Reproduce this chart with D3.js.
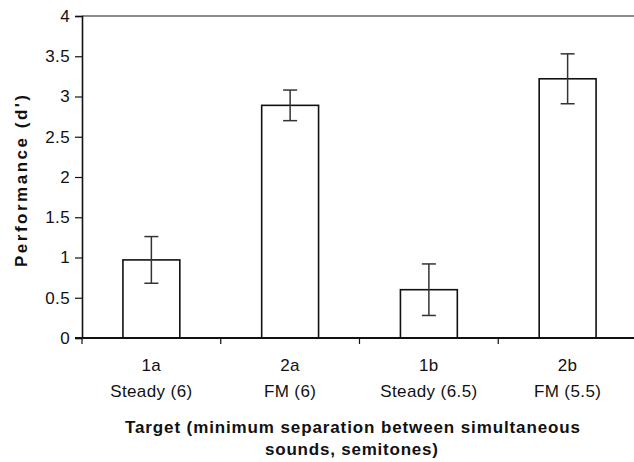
<!DOCTYPE html>
<html>
<head>
<meta charset="utf-8">
<script src="https://cdn.jsdelivr.net/npm/d3@7"></script>
<style>
  html, body { margin: 0; padding: 0; background: #fff; }
  svg { display: block; }
  text { font-family: "Liberation Sans", Arial, sans-serif; fill: #111; }
</style>
</head>
<body>
<svg id="chart" width="634" height="462"></svg>
<script>
// Target conditions and mean d' with error-bar half-widths
const codes = ["1a", "2a", "1b", "2b"];
const conditions = ["Steady (6)", "FM (6)", "Steady (6.5)", "FM (5.5)"];
const performance = [0.97, 2.89, 0.60, 3.22];
const errors = [0.29, 0.19, 0.32, 0.31];
const yTicks = [0, 0.5, 1, 1.5, 2, 2.5, 3, 3.5, 4];

const svg = d3.select("#chart");
const plotLeft = 82, plotRight = 637, plotTop = 16, plotBottom = 338;
const labelFont = "17px", labelSpacing = "0.4px";

const x = d3.scaleBand().domain(codes).range([plotLeft, plotRight]).paddingInner(0).paddingOuter(0);
const y = d3.scaleLinear().domain([0, 4]).range([plotBottom, plotTop]);
const barW = x.bandwidth() * 0.41;

// plot frame top edge
svg.append("line")
  .attr("x1", plotLeft).attr("x2", 634)
  .attr("y1", y(4)).attr("y2", y(4))
  .attr("stroke", "#666").attr("stroke-width", 1.3);

// bars
svg.selectAll("rect.bar").data(codes).enter().append("rect")
  .attr("class", "bar")
  .attr("x", d => x(d) + x.bandwidth() / 2 - barW / 2)
  .attr("width", barW)
  .attr("y", (d, i) => y(performance[i]))
  .attr("height", (d, i) => y(0) - y(performance[i]))
  .attr("fill", "#fff").attr("stroke", "#111").attr("stroke-width", 1.6);

// error bars
const eb = svg.selectAll("g.err").data(codes).enter().append("g")
  .attr("class", "err")
  .attr("stroke", "#333").attr("stroke-width", 1.5);
eb.append("line")
  .attr("x1", d => x(d) + x.bandwidth() / 2).attr("x2", d => x(d) + x.bandwidth() / 2)
  .attr("y1", (d, i) => y(performance[i] + errors[i]))
  .attr("y2", (d, i) => y(performance[i] - errors[i]));
[1, -1].forEach(s => {
  eb.append("line")
    .attr("x1", d => x(d) + x.bandwidth() / 2 - 7).attr("x2", d => x(d) + x.bandwidth() / 2 + 7)
    .attr("y1", (d, i) => y(performance[i] + s * errors[i]))
    .attr("y2", (d, i) => y(performance[i] + s * errors[i]));
});

// y axis
const yAxis = svg.append("g")
  .attr("transform", `translate(${plotLeft},0)`)
  .call(d3.axisLeft(y).tickValues(yTicks).tickSize(7).tickPadding(5)
    .tickFormat(d => String(d)));
yAxis.select(".domain").attr("stroke", "#111").attr("stroke-width", 1.6);
yAxis.selectAll(".tick line").attr("stroke", "#111").attr("stroke-width", 1.2);
yAxis.selectAll(".tick text")
  .style("font-family", "'Liberation Sans', Arial, sans-serif")
  .style("font-size", labelFont).style("letter-spacing", labelSpacing)
  .attr("fill", "#111");

// x axis with boundary ticks between categories
svg.append("line")
  .attr("x1", plotLeft - 7).attr("x2", 634)
  .attr("y1", plotBottom).attr("y2", plotBottom)
  .attr("stroke", "#111").attr("stroke-width", 1.8);
svg.selectAll("line.xtick").data(codes).enter().append("line")
  .attr("class", "xtick")
  .attr("x1", d => x(d)).attr("x2", d => x(d))
  .attr("y1", plotBottom).attr("y2", plotBottom + 6)
  .attr("stroke", "#111").attr("stroke-width", 1.2);

// category labels
const lab = svg.selectAll("g.xlab").data(codes).enter().append("g")
  .attr("class", "xlab")
  .attr("transform", d => `translate(${x(d) + x.bandwidth() / 2},0)`);
lab.append("text").attr("y", 371).attr("text-anchor", "middle")
  .style("font-size", labelFont).style("letter-spacing", labelSpacing).text(d => d);
lab.append("text").attr("y", 397).attr("text-anchor", "middle")
  .style("font-size", labelFont).style("letter-spacing", labelSpacing)
  .text((d, i) => conditions[i]);

// axis titles
svg.append("text")
  .attr("transform", `translate(27,181) rotate(-90)`)
  .attr("text-anchor", "middle")
  .attr("textLength", 172).attr("lengthAdjust", "spacing")
  .style("font-size", "17px").style("font-weight", "bold")
  .text("Performance (d')");

svg.append("text").attr("x", 352.5).attr("y", 433).attr("text-anchor", "middle")
  .attr("textLength", 455).attr("lengthAdjust", "spacing")
  .style("font-size", "17px").style("font-weight", "bold")
  .text("Target (minimum separation between simultaneous");
svg.append("text").attr("x", 351.5).attr("y", 455).attr("text-anchor", "middle")
  .attr("textLength", 173).attr("lengthAdjust", "spacing")
  .style("font-size", "17px").style("font-weight", "bold")
  .text("sounds, semitones)");
</script>
</body>
</html>
